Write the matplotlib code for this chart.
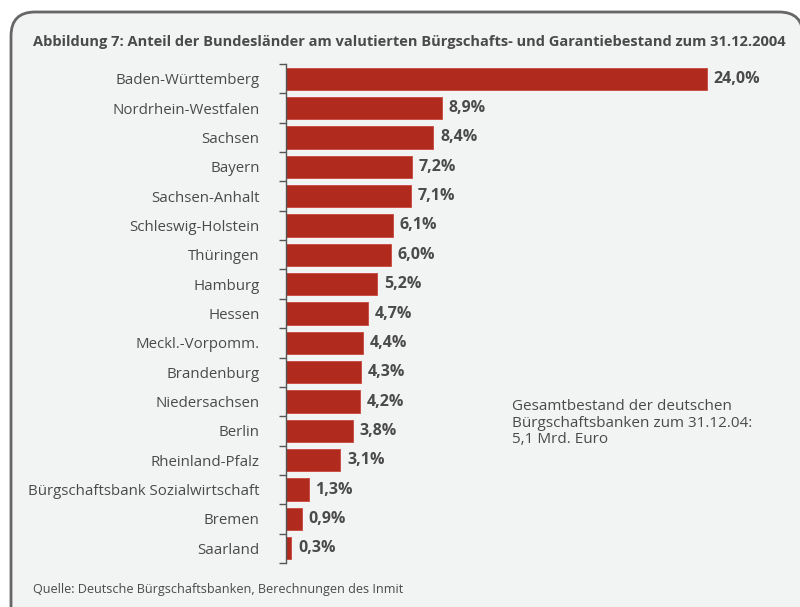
import matplotlib.pyplot as plt
from matplotlib.patches import FancyBboxPatch

# Daten
laender = ["Baden-Württemberg", "Nordrhein-Westfalen", "Sachsen", "Bayern",
           "Sachsen-Anhalt", "Schleswig-Holstein", "Thüringen", "Hamburg",
           "Hessen", "Meckl.-Vorpomm.", "Brandenburg", "Niedersachsen",
           "Berlin", "Rheinland-Pfalz", "Bürgschaftsbank Sozialwirtschaft",
           "Bremen", "Saarland"]
anteile = [24.0, 8.9, 8.4, 7.2, 7.1, 6.1, 6.0, 5.2, 4.7, 4.4, 4.3, 4.2,
           3.8, 3.1, 1.3, 0.9, 0.3]

titel = "Abbildung 7: Anteil der Bundesländer am valutierten Bürgschafts- und Garantiebestand zum 31.12.2004"
quelle = "Quelle: Deutsche Bürgschaftsbanken, Berechnungen des Inmit"
notiz = "Gesamtbestand der deutschen\nBürgschaftsbanken zum 31.12.04:\n5,1 Mrd. Euro"

plt.rcParams['font.family'] = ['Open Sans', 'DejaVu Sans']
textfarbe = '#4a4a4a'
balkenfarbe = '#b02a1e'

W, H = 800, 607
fig = plt.figure(figsize=(W / 100, H / 100), dpi=100)
fig.patch.set_facecolor('white')

# Hintergrundrahmen mit runden Ecken
rahmen = FancyBboxPatch((11 / W, -0.05), 0.99, (H - 12) / H + 0.05,
                        boxstyle="round,pad=0,rounding_size=0.03",
                        transform=fig.transFigure, facecolor='#f2f3f3',
                        edgecolor='#666666', linewidth=2, zorder=-10,
                        mutation_aspect=W / H)
fig.patches.append(rahmen)

# Achse in Pixelkoordinaten
ax_left, ax_right = 286, 786
ax_top, ax_bottom = 64, 563
ax = fig.add_axes([ax_left / W, 1 - ax_bottom / H,
                   (ax_right - ax_left) / W, (ax_bottom - ax_top) / H])
ax.set_facecolor('none')
ax.set_zorder(5)

px_pro_einheit = (707 - ax_left) / 24.0
ax.set_xlim(0, (ax_right - ax_left) / px_pro_einheit)

y = list(range(len(laender)))
ax.barh(y, anteile, height=0.76, color=balkenfarbe, edgecolor='#c8483c',
        linewidth=0.6, zorder=2)
ax.set_ylim(len(laender) - 0.5, -0.5)

for yi, v in zip(y, anteile):
    ax.text(v + 0.38, yi, f"{v:.1f}%".replace('.', ','), va='center', ha='left',
            fontsize=11.5, fontweight='bold', color=textfarbe)

ax.set_yticks(y)
ax.set_yticklabels(laender, fontsize=10.8, color=textfarbe)
ax.tick_params(axis='y', which='major', length=0, pad=19)
ax.set_yticks([i - 0.5 for i in range(len(laender) + 1)], minor=True)
ax.tick_params(axis='y', which='minor', length=5, color='#555555', width=1)
ax.set_xticks([])
for s in ['top', 'right', 'bottom']:
    ax.spines[s].set_visible(False)
ax.spines['left'].set_color('#555555')
ax.spines['left'].set_linewidth(1)

fig.text(33 / W, 1 - 42 / H, titel, fontsize=10.5, fontweight='bold',
         color=textfarbe, va='center', ha='left')
fig.text(512 / W, 1 - 399 / H, notiz, fontsize=11, color=textfarbe,
         va='top', ha='left', linespacing=1.15)
fig.text(33 / W, 1 - 589 / H, quelle, fontsize=9.1, color=textfarbe,
         va='center', ha='left')

fig.savefig('out.png', dpi=100, facecolor=fig.get_facecolor())
